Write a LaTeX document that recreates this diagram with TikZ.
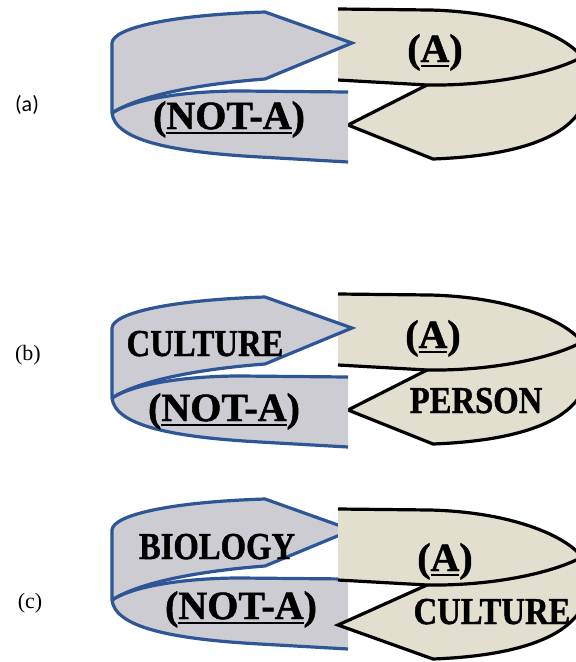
\documentclass[tikz,border=0pt]{standalone}
\usepackage{graphicx}
\usepackage{fontspec}
\setmainfont{Liberation Serif}
\newfontfamily\carlito{Carlito}
\newfontfamily\heavyfont[BoldFeatures={FakeBold=1.2}]{Liberation Serif}

\definecolor{notablue}{RGB}{46,86,150}
\definecolor{notafill}{RGB}{204,204,210}
\definecolor{afill}{RGB}{226,223,206}

% underline with a thicker rule
\newcommand{\ulword}[1]{\setbox0=\hbox{#1}\rlap{\rule[-5pt]{\wd0}{2.4pt}}\box0}
% somewhat narrower capitals
\newcommand{\narrow}[1]{\scalebox{0.86}[1]{#1}}

% blue ribbon (NOT-A), folded on the left
\newcommand{\notaribbon}{%
  \fill[notafill] (112,43) .. controls (113,28) and (170,15) .. (265,12) -- (352,43) -- (265,79)
    .. controls (200,84) and (140,95) .. (112,113) -- cycle;
  \fill[notafill] (112,113) .. controls (135,98) and (190,91) .. (240,91) -- (348,92) -- (348,162)
    -- (260,157) .. controls (170,152) and (115,140) .. (112,113) -- cycle;
  \draw[notaline] (348,162) -- (260,157) .. controls (170,152) and (115,140) .. (112,113) -- (112,43)
    .. controls (113,28) and (170,15) .. (265,12) -- (352,43) -- (265,79)
    .. controls (200,84) and (140,95) .. (112,113);
  \draw[notaline] (112,113) .. controls (135,98) and (190,91) .. (240,91) -- (348,92);
}

% black ribbon (A), folded on the right, #1 = x of the arrow tip
\newcommand{\aribbon}[1]{%
  \fill[afill] (338,9) -- (430,10) .. controls (510,12) and (565,35) .. (582,57)
    .. controls (608,125) and (540,155) .. (433,159) -- (#1,125) -- (427,85) -- (338,80) -- cycle;
  \draw[aline] (338,9) -- (430,10) .. controls (510,12) and (565,35) .. (582,57)
    .. controls (608,125) and (540,155) .. (433,159) -- (#1,125) -- (427,85);
  \draw[aline] (338,80) -- (427,85) .. controls (495,86) and (555,72) .. (582,57);
}

\tikzset{
  notaline/.style={notablue, line width=3.2pt},
  aline/.style={black, line width=3.2pt},
  word/.style={inner sep=0pt, anchor=base, font=\fontsize{38}{40}\selectfont\heavyfont\bfseries},
  bigword/.style={inner sep=0pt, anchor=base, font=\fontsize{40}{42}\selectfont\heavyfont\bfseries},
  caselabel/.style={inner sep=0pt, font=\fontsize{22}{24}\selectfont}
}

\begin{document}
\begin{tikzpicture}[x=1pt,y=-1pt]
    \useasboundingbox (0,0) rectangle (576,662);
    \clip (0,0) rectangle (576,662);

    % (a)
    \aribbon{348}
    \notaribbon

    % (b)
    \begin{scope}[shift={(0,285)}]
        \aribbon{348}
        \notaribbon
    \end{scope}

    % (c) -- here the black ribbon lies on top
    \begin{scope}[shift={(0,487)}]
        \notaribbon
    \end{scope}
    \begin{scope}[shift={(0,500)}]
        \aribbon{338}
    \end{scope}

    % Beschriftung
    \node[caselabel] (labA) at (27,105) {\carlito (a)};
    \node[bigword] (aA) at (435,62) {(\ulword{A})};
    \node[bigword] (aNotA) at (229,129) {(\ulword{NOT-A})};

    \node[caselabel] (labB) at (28,355) {(b)};
    \node[word] (bCulture) at (205,356) {\narrow{CULTURE}};
    \node[bigword] (bA) at (433,348) {(\ulword{A})};
    \node[bigword] (bNotA) at (224,421) {(\ulword{NOT-A})};
    \node[word] (bPerson) at (476,413) {\narrow{PERSON}};

    \node[caselabel] (labC) at (30,603) {(c)};
    \node[word] (cBiology) at (217,559) {\narrow{BIOLOGY}};
    \node[bigword] (cA) at (445,571) {(\ulword{A})};
    \node[bigword] (cNotA) at (241,619) {(\ulword{NOT-A})};
    \node[word] (cCulture) at (492,624) {\narrow{CULTURE}};
\end{tikzpicture}
\end{document}
